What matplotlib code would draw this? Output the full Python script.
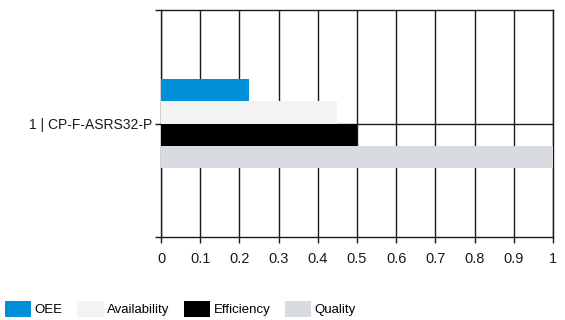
import numpy as np
import matplotlib
matplotlib.use("Agg")
import matplotlib.pyplot as plt
from matplotlib.ticker import FixedLocator

# 数据
category = "1 | CP-F-ASRS32-P"
series = ["OEE", "Availability", "Efficiency", "Quality"]
values = [0.225, 0.45, 0.50, 1.0]
colors = ["#0090da", "#f3f3f3", "#000000", "#d8dbdf"]
xticks = [0, 0.1, 0.2, 0.3, 0.4, 0.5, 0.6, 0.7, 0.8, 0.9, 1.0]
xticklabels = ["0", "0.1", "0.2", "0.3", "0.4", "0.5", "0.6", "0.7", "0.8", "0.9", "1"]

plt.rcParams['font.family'] = ['Liberation Sans Narrow', 'Liberation Sans', 'DejaVu Sans']
line_color = '#1a1a1a'
fs = 10

fig = plt.figure(figsize=(5.65, 3.2), dpi=100)
ax = fig.add_axes([161 / 565, 1 - 237 / 320, 392 / 565, 227 / 320])

# 每根柱子的高度和位置 (从上到下)
h = 0.098
offsets = (np.arange(len(series))[::-1] - (len(series) - 1) / 2) * h
for name, val, col, off in zip(series, values, colors, offsets):
    ax.barh(off, val, height=h, color=col, label=name, zorder=3)

ax.set_xlim(0, 1)
ax.set_ylim(-0.5, 0.5)
ax.set_xticks(xticks)
ax.set_xticklabels(xticklabels)
ax.set_yticks([0])
ax.set_yticklabels([category])
ax.yaxis.set_minor_locator(FixedLocator([-0.5, 0.5]))

ax.set_axisbelow(True)
ax.grid(True, which='major', axis='both', color=line_color, linewidth=1.0)
for s in ax.spines.values():
    s.set_color(line_color)
    s.set_linewidth(1.0)

ax.tick_params(axis='x', length=4, width=1.0, pad=7, labelsize=10.5, colors=line_color)
ax.tick_params(axis='y', which='both', length=4.5, width=1.0, pad=2, labelsize=fs, colors=line_color)

# 图例
fig.legend(loc='center left', bbox_to_anchor=(5 / 565, 1 - 309 / 320), ncol=4, frameon=False,
           fontsize=9.5, handlelength=2.0, handleheight=1.5, handletextpad=0.25,
           columnspacing=1.1, borderpad=0, borderaxespad=0)

fig.savefig("out.png", dpi=100)
